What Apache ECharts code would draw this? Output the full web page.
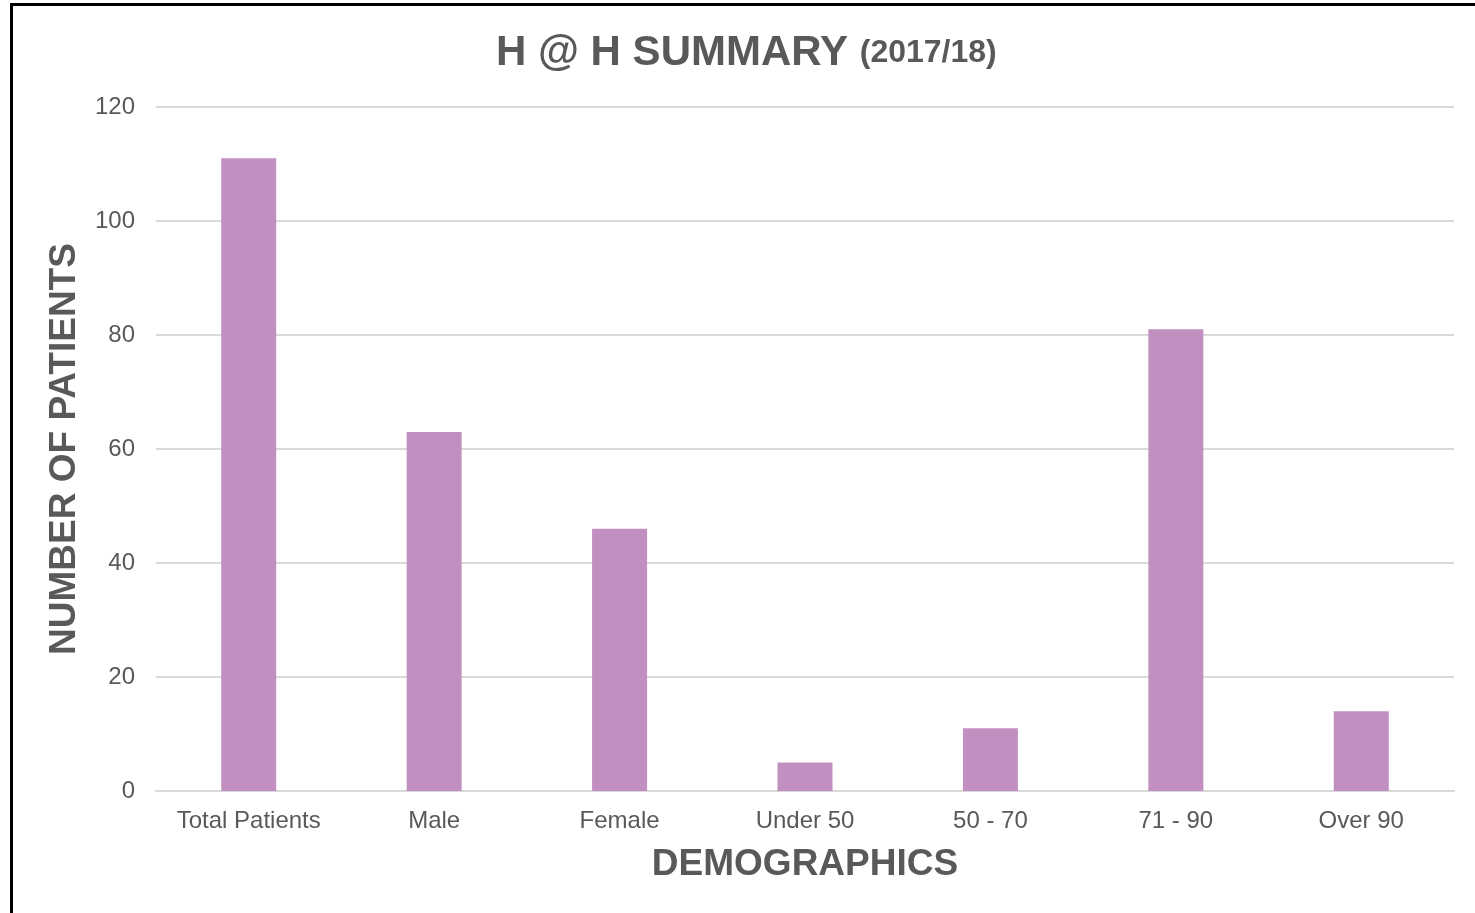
<!DOCTYPE html>
<html>
<head>
<meta charset="utf-8">
<script src="https://cdn.jsdelivr.net/npm/echarts@6/dist/echarts.min.js"></script>
<style>
html,body{margin:0;padding:0;background:#fff;overflow:hidden;}
#frame{position:absolute;left:10px;top:3px;width:2000px;height:2000px;border-left:3px solid #000;border-top:3px solid #000;box-sizing:border-box;}
#chart{position:absolute;left:0;top:0;width:1475px;height:913px;}
</style>
</head>
<body>
<div id="frame"></div>
<div id="chart"></div>
<script>
const categories = ['Total Patients', 'Male', 'Female', 'Under 50', '50 - 70', '71 - 90', 'Over 90'];
const patients = [111, 63, 46, 5, 11, 81, 14];
const yTicks = [0, 20, 40, 60, 80, 100, 120];

const chart = echarts.init(document.getElementById('chart'));
const font = 'Liberation Sans, Arial, sans-serif';
chart.setOption({
  animation: false,
  textStyle: { fontFamily: font },
  title: {
    text: '{a|H @ H SUMMARY}{s| }{b|(2017/18)}',
    left: 491,
    top: 27,
    textStyle: {
      rich: {
        a: { fontSize: 42, fontWeight: 'bold', color: '#595959', fontFamily: font },
        s: { fontSize: 42, fontWeight: 'bold', color: '#595959', fontFamily: font },
        b: { fontSize: 32, fontWeight: 'bold', color: '#595959', fontFamily: font }
      }
    }
  },
  grid: { left: 156, right: 21, top: 107, bottom: 122, containLabel: false },
  xAxis: {
    type: 'category',
    data: categories,
    name: 'DEMOGRAPHICS',
    nameLocation: 'middle',
    nameGap: 55,
    nameTextStyle: { fontSize: 37, fontWeight: 'bold', color: '#595959', fontFamily: font },
    axisLine: { lineStyle: { color: '#d9d9d9', width: 2 } },
    axisTick: { show: false },
    axisLabel: { interval: 0, hideOverlap: false, fontSize: 24, color: '#595959', margin: 18, fontFamily: font }
  },
  yAxis: {
    type: 'value',
    min: yTicks[0],
    max: yTicks[yTicks.length - 1],
    interval: 20,
    name: 'NUMBER OF PATIENTS',
    nameLocation: 'middle',
    nameGap: 73,
    nameTextStyle: { fontSize: 37, fontWeight: 'bold', color: '#595959', fontFamily: font },
    axisLine: { show: false },
    axisTick: { show: false },
    splitLine: { lineStyle: { color: '#d9d9d9', width: 2 } },
    axisLabel: { fontSize: 24, color: '#595959', margin: 21, fontFamily: font }
  },
  series: [{
    type: 'bar',
    data: patients,
    barWidth: 55,
    itemStyle: { color: '#c190c1' }
  }]
});
</script>
</body>
</html>
